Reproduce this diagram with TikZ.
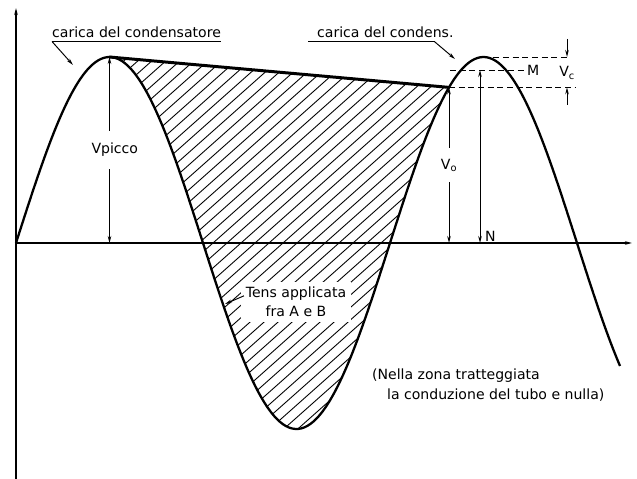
\documentclass[tikz,border=0pt]{standalone}
\usepackage{fontspec}
\setmainfont{DejaVu Sans}
\usetikzlibrary{arrows.meta}

\begin{document}
\begin{tikzpicture}[x=.04cm,y=.04cm,>={Stealth[length=8pt,width=4pt]},
  every node/.style={font=\fontsize{16}{22}\selectfont},
  wave/.style={line width=2.6pt},axis/.style={line width=1.5pt},
  quota/.style={line width=1.1pt},hatch/.style={line width=1pt},
  guide/.style={line width=1.1pt,dash pattern=on 7pt off 4pt}]
\useasboundingbox (-16,-236) rectangle (621,243);
\draw[axis,->] (0,-236)--(0,235);\draw[axis,->] (0,0)--(616,0);
\coordinate (P1) at (93.5,186);\coordinate (P2) at (433,{186*sin(433/374*360)});\coordinate (P3) at (467.5,186);
\coordinate (Q1) at (93.5,0);\coordinate (Q2) at (433,0);\coordinate (Q3) at (464,0);\coordinate (M0) at (464,173);
\begin{scope}
\clip (P1)--(P2)--plot[domain=433:93.5,samples=80] (\x,{186*sin(\x/374*360)})--cycle;
\foreach \i in {-420,-406,...,440} \draw[hatch] (\i,-200)--++(450,400);
\end{scope}
\draw[wave] plot[domain=0:604,samples=200,smooth] (\x,{186*sin(\x/374*360)});
\draw[line width=3.4pt,line cap=round] (P1)--(P2);
\draw[quota,<->] (Q1)--node[fill=white,inner xsep=1pt,inner ysep=14pt,xshift=6pt]{Vpicco}(P1);
\draw[quota,<->] (Q2)--node[fill=white,inner xsep=1pt,inner ysep=12pt]{V\textsubscript{o}}(P2);
\draw[quota,<->] (Q3)--(M0);\node[anchor=south west] (N) at (466,-2) {N};
\node[anchor=west] (M) at (508,173) {M};\draw[guide] (434,173)--(M.west);
\draw[guide] (P3)--(551,186);\draw[guide] (P2)--++(126,0);
\node (Vc) at (551,170) {V\textsubscript{c}};
\coordinate (C1) at (551,204);\coordinate (C2) at (551,186);\coordinate (C3) at (551,138);\coordinate (C4) at (551,155.7);
\draw[quota,->] (C1)--(C2);\draw[quota,->] (C3)--(C4);
\node[anchor=base west,inner sep=0pt] (cc1) at (36,205) {carica del condensatore};
\draw[quota] ([yshift=-4pt]cc1.base west)--([yshift=-4pt]cc1.base east);
\coordinate (T1) at (57,178);\draw[quota,->] ([yshift=-4pt]cc1.base west)--(T1);
\node[anchor=base west,inner sep=0pt] (cc2) at (301,205) {carica del condens.};
\coordinate (T2) at (439,184);
\draw[quota,->] ([xshift=-10pt,yshift=-4pt]cc2.base west)--([xshift=-22pt,yshift=-4pt]cc2.base east)--(T2);
\node[align=center,fill=white,inner sep=5pt] (tens) at (280,-59) {Tens applicata\\fra A e B};
\coordinate (T3) at (209,-61);\draw[quota,->] ([xshift=3pt,yshift=7pt]tens.west)--(T3);
\node[align=left,anchor=north west,inner sep=0pt] (note) at (356,-126) {(Nella zona tratteggiata\\\hspace*{17pt}la conduzione del tubo e nulla)};
\end{tikzpicture}
\end{document}
